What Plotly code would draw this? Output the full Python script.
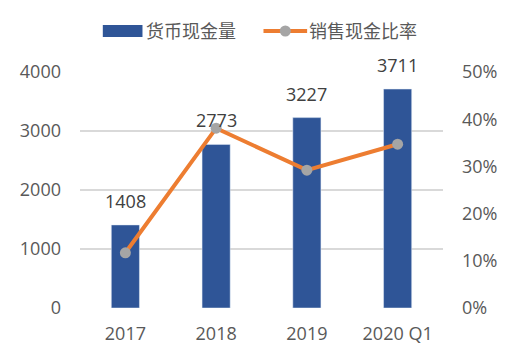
import plotly.graph_objects as go

categories = ["2017", "2018", "2019", "2020 Q1"]
cash = [1408, 2773, 3227, 3711]
ratio = [0.117, 0.381, 0.292, 0.347]
bar_name = "货币现金量"
line_name = "销售现金比率"

FONT = "Open Sans, Noto Sans CJK SC, sans-serif"
BLUE = "#2F5597"
ORANGE = "#ED7D31"
GRAY = "#A5A5A5"

fig = go.Figure()
fig.add_trace(go.Bar(x=categories, y=cash, name=bar_name, marker_color=BLUE,
                     width=0.31, showlegend=False, yaxis="y"))
fig.add_trace(go.Scatter(x=categories, y=ratio, name=line_name, mode="lines+markers",
                         line=dict(color=ORANGE, width=4),
                         marker=dict(color=GRAY, size=11),
                         showlegend=False, yaxis="y2"))

# data labels (category index positions on the category axis)
for i, v in enumerate(cash):
    fig.add_annotation(x=i, y=v, xref="x", yref="y", text=str(v), showarrow=False,
                       yanchor="middle", yshift=24,
                       font=dict(size=18, color="#404040", family=FONT))

def px(x):
    return (x - 77) / 366

def py(y):
    return (308 - y) / 236

# custom legend
fig.add_shape(type="rect", xref="paper", yref="paper",
              x0=px(100), x1=px(140), y0=py(37), y1=py(25),
              fillcolor=BLUE, line=dict(width=0))
fig.add_annotation(xref="paper", yref="paper", x=px(142), y=py(31),
                   text=bar_name, showarrow=False, xanchor="left", yanchor="middle",
                   font=dict(size=18, color="#595959", family=FONT))
fig.add_shape(type="line", xref="paper", yref="paper",
              x0=px(262), x1=px(306), y0=py(31), y1=py(31),
              line=dict(color=ORANGE, width=4))
fig.add_shape(type="circle", xref="paper", yref="paper",
              xsizemode="pixel", ysizemode="pixel",
              xanchor=px(284), yanchor=py(31), x0=-5.5, x1=5.5, y0=-5.5, y1=5.5,
              fillcolor=GRAY, line=dict(width=0))
fig.add_annotation(xref="paper", yref="paper", x=px(306), y=py(31),
                   text=line_name, showarrow=False, xanchor="left", yanchor="middle",
                   font=dict(size=18, color="#595959", family=FONT))

fig.update_layout(
    width=512, height=358,
    margin=dict(l=69, r=77, t=64, b=58),
    plot_bgcolor="white", paper_bgcolor="white",
    font=dict(family=FONT, size=18, color="#595959"),
    xaxis=dict(type="category", showline=False, ticks="",
               tickfont=dict(size=18, color="#595959"), ticklabelstandoff=13),
    yaxis=dict(range=[0, 4000], tickvals=[0, 1000, 2000, 3000, 4000],
               showgrid=True, gridcolor="#D9D9D9", gridwidth=1.5, zeroline=False,
               showline=False, ticks="", ticklabelstandoff=18,
               tickfont=dict(size=18, color="#595959")),
    yaxis2=dict(range=[0, 0.5], tickvals=[0, 0.1, 0.2, 0.3, 0.4, 0.5], tickformat=".0%",
                overlaying="y", side="right", showgrid=False, zeroline=False,
                showline=False, ticks="", ticklabelstandoff=18,
                tickfont=dict(size=18, color="#595959")),
)

fig.write_html("out.html")
